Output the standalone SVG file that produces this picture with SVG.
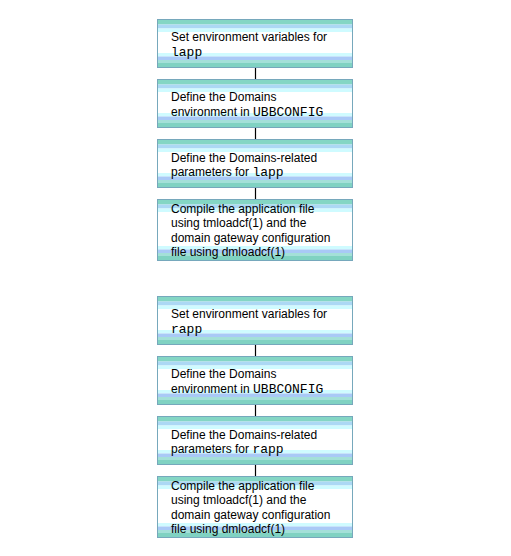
<svg xmlns="http://www.w3.org/2000/svg" xmlns:xlink="http://www.w3.org/1999/xlink" width="511" height="556" viewBox="0 0 511 556">
<style>
.box{fill:#ffffff;stroke:#76A8BC;stroke-width:1}
.t{font-family:"Liberation Sans",Arial,sans-serif;font-size:12px;fill:#000}
.m{font-family:"Liberation Mono","Courier New",monospace;font-size:13px}
.conn line{stroke:#000;stroke-width:1.2}
</style>
<defs>
<g id="topS">
<rect x="0" y="0" width="194" height="4.5" fill="#84D6C4"/>
<rect x="0" y="4.5" width="194" height="4" fill="#ACD8F4"/>
<rect x="0" y="8.5" width="194" height="3.5" fill="#CFFBFF"/>
</g>
<g id="botS">
<rect x="0" y="-14" width="194" height="3.5" fill="#CFFBFF"/>
<rect x="0" y="-10.5" width="194" height="3.5" fill="#A9C9F6"/>
<rect x="0" y="-7" width="194" height="3" fill="#A4E0D8"/>
<rect x="0" y="-4" width="194" height="4" fill="#80D2C2"/>
</g>
</defs>
<rect width="511" height="556" fill="#fff"/>
<g class="conn" id="connectors">
<line x1="255.5" y1="67.5" x2="255.5" y2="79.5"/>
<line x1="255.5" y1="127.5" x2="255.5" y2="139.5"/>
<line x1="255.5" y1="187.5" x2="255.5" y2="199.5"/>
<line x1="255.5" y1="344.5" x2="255.5" y2="356.5"/>
<line x1="255.5" y1="404.5" x2="255.5" y2="416.5"/>
<line x1="255.5" y1="464.5" x2="255.5" y2="476.5"/>
</g>
<g id="n1">
<rect class="box" x="157.5" y="19.5" width="195" height="48"/>
<use xlink:href="#topS" x="158" y="20"/>
<use xlink:href="#botS" x="158" y="67"/>
<text class="t" x="171" y="41">Set environment variables for</text>
<text class="t" x="171" y="56"><tspan class="m">lapp</tspan></text>
</g>
<g id="n2">
<rect class="box" x="157.5" y="79.5" width="195" height="48"/>
<use xlink:href="#topS" x="158" y="80"/>
<use xlink:href="#botS" x="158" y="127"/>
<text class="t" x="171" y="101">Define the Domains</text>
<text class="t" x="171" y="116">environment in <tspan class="m">UBBCONFIG</tspan></text>
</g>
<g id="n3">
<rect class="box" x="157.5" y="139.5" width="195" height="48"/>
<use xlink:href="#topS" x="158" y="140"/>
<use xlink:href="#botS" x="158" y="187"/>
<text class="t" x="171" y="162">Define the Domains-related</text>
<text class="t" x="171" y="176">parameters for <tspan class="m">lapp</tspan></text>
</g>
<g id="n4">
<rect class="box" x="157.5" y="199.5" width="195" height="61"/>
<use xlink:href="#topS" x="158" y="200"/>
<use xlink:href="#botS" x="158" y="260"/>
<text class="t" x="171" y="213">Compile the application file</text>
<text class="t" x="171" y="227">using tmloadcf(1) and the</text>
<text class="t" x="171" y="242">domain gateway configuration</text>
<text class="t" x="171" y="256">file using dmloadcf(1)</text>
</g>
<g id="n5">
<rect class="box" x="157.5" y="296.5" width="195" height="48"/>
<use xlink:href="#topS" x="158" y="297"/>
<use xlink:href="#botS" x="158" y="344"/>
<text class="t" x="171" y="318">Set environment variables for</text>
<text class="t" x="171" y="333"><tspan class="m">rapp</tspan></text>
</g>
<g id="n6">
<rect class="box" x="157.5" y="356.5" width="195" height="48"/>
<use xlink:href="#topS" x="158" y="357"/>
<use xlink:href="#botS" x="158" y="404"/>
<text class="t" x="171" y="378">Define the Domains</text>
<text class="t" x="171" y="393">environment in <tspan class="m">UBBCONFIG</tspan></text>
</g>
<g id="n7">
<rect class="box" x="157.5" y="416.5" width="195" height="48"/>
<use xlink:href="#topS" x="158" y="417"/>
<use xlink:href="#botS" x="158" y="464"/>
<text class="t" x="171" y="439">Define the Domains-related</text>
<text class="t" x="171" y="453">parameters for <tspan class="m">rapp</tspan></text>
</g>
<g id="n8">
<rect class="box" x="157.5" y="476.5" width="195" height="61"/>
<use xlink:href="#topS" x="158" y="477"/>
<use xlink:href="#botS" x="158" y="537"/>
<text class="t" x="171" y="490">Compile the application file</text>
<text class="t" x="171" y="504">using tmloadcf(1) and the</text>
<text class="t" x="171" y="519">domain gateway configuration</text>
<text class="t" x="171" y="533">file using dmloadcf(1)</text>
</g>
</svg>
